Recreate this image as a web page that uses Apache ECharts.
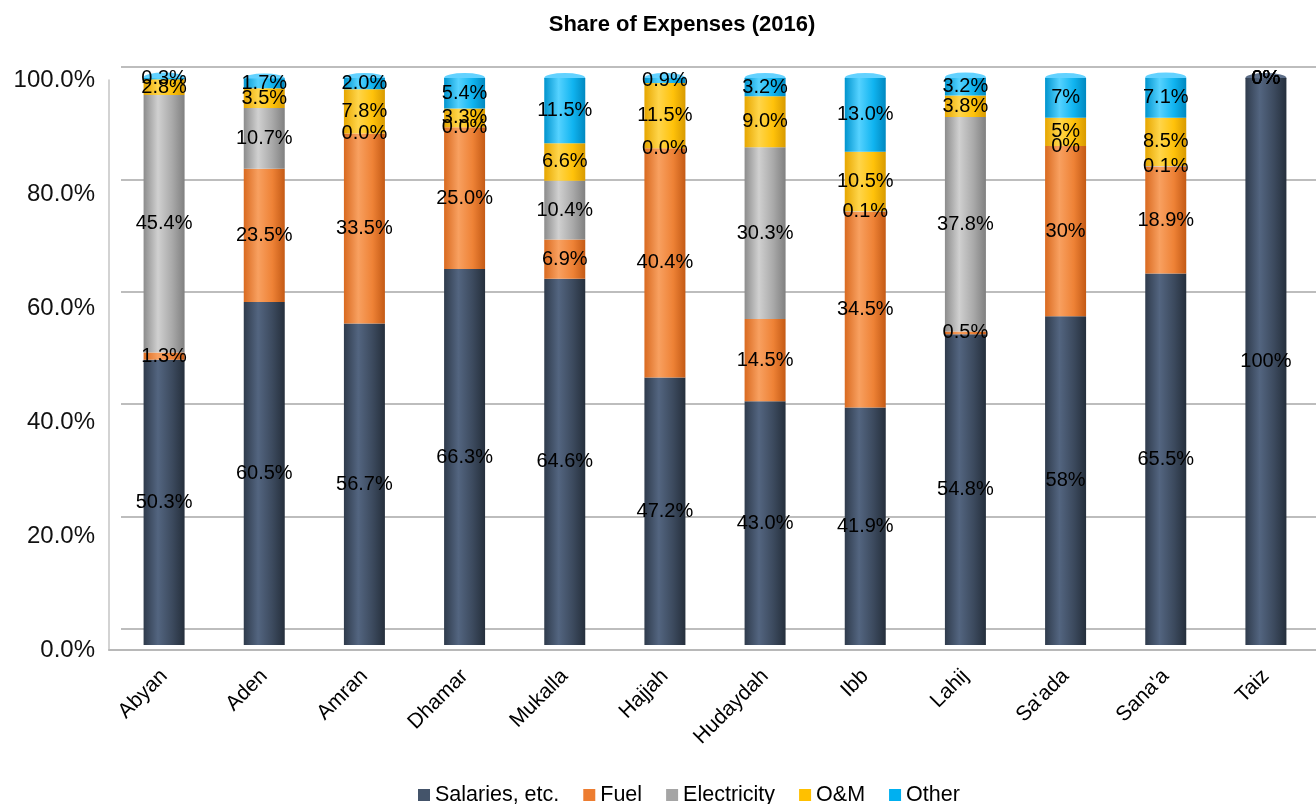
<!DOCTYPE html>
<html>
<head>
<meta charset="utf-8">
<script src="https://cdn.jsdelivr.net/npm/echarts@6/dist/echarts.min.js"></script>
<style>
html,body{margin:0;padding:0;background:#fff;}
#chart{width:1316px;height:804px;}
</style>
</head>
<body>
<div id="chart"></div>
<script>
// ---- data ----
const categories = ['Abyan','Aden','Amran','Dhamar','Mukalla','Hajjah','Hudaydah','Ibb','Lahij',"Sa'ada","Sana'a",'Taiz'];
const salaries    = [50.3, 60.5, 56.7, 66.3, 64.6, 47.2, 43.0, 41.9, 54.8, 58, 65.5, 100];
const fuel        = [1.3, 23.5, 33.5, 25.0, 6.9, 40.4, 14.5, 34.5, 0.5, 30, 18.9, 0];
const electricity = [45.4, 10.7, 0.0, 0.0, 10.4, 0.0, 30.3, 0.1, 37.8, 0, 0.1, 0];
const om          = [2.8, 3.5, 7.8, 3.3, 6.6, 11.5, 9.0, 10.5, 3.8, 5, 8.5, 0];
const other       = [0.3, 1.7, 2.0, 5.4, 11.5, 0.9, 3.2, 13.0, 3.2, 7, 7.1, 0];
const labelDecimals = [1,1,1,1,1,1,1,1,1,0,1,0];
const seriesNames = ['Salaries, etc.','Fuel','Electricity','O&M','Other'];
const yMin = 0, yMax = 100, yStep = 20;

// ---- styles ----
const baseColors = ['#44546a','#ed7d31','#a5a5a5','#ffc000','#00b0f0'];
const shades = [
  ['#2f3b4c','#536580','#3c4a5e','#252f3c'],
  ['#d96a20','#f8a060','#ee8236','#c45a15'],
  ['#8c8c8c','#d0d0d0','#a9a9a9','#808080'],
  ['#e6a600','#ffd54a','#ffc20a','#d89a00'],
  ['#0094ce','#55d2ff','#10b4f0','#0088c0']
];
const capColors = ['#5d6e88','#f7ad72','#c8c8c8','#ffdb55','#63d2ff'];
function grad(i){
  const s = shades[i];
  return {type:'linear',x:0,y:0,x2:1,y2:0,colorStops:[
    {offset:0,color:s[0]},{offset:0.35,color:s[1]},{offset:0.7,color:s[2]},{offset:1,color:s[3]}]};
}
const allSeries = [salaries, fuel, electricity, om, other];
const totals = categories.map((c,i)=>allSeries.reduce((a,s)=>a+s[i],0));
const topIdx = categories.map((c,i)=>{let t=0; allSeries.forEach((s,k)=>{if(s[i]>0)t=k;}); return t;});

const FONT = 'Liberation Sans, Arial, sans-serif';
const BW = 41;

const barSeries = allSeries.map((arr,k)=>({
  name: seriesNames[k],
  type:'bar',
  stack:'total',
  xAxisIndex:0, yAxisIndex:0,
  barWidth:BW,
  data: arr,
  itemStyle:{color:grad(k)},
  label:{show:true,position:'inside',color:'#000',fontSize:20,fontFamily:FONT,
    formatter:p=>p.value.toFixed(labelDecimals[p.dataIndex])+'%'},
  z:3
}));

const capSeries = {
  type:'pictorialBar',
  xAxisIndex:0, yAxisIndex:0,
  symbol:'circle',
  symbolSize:[BW,10],
  symbolPosition:'end',
  symbolOffset:[0,'-50%'],
  barWidth:BW,
  silent:true,
  z:2,
  data: totals.map((t,i)=>({value:t,itemStyle:{color:capColors[topIdx[i]]}}))
};

const chart = echarts.init(document.getElementById('chart'));
chart.setOption({
  backgroundColor:'#fff',
  animation:false,
  title:{text:'Share of Expenses (2016)',left:677,top:9,textAlign:'center',
    textStyle:{fontFamily:FONT,fontSize:22,fontWeight:'bold',color:'#000'}},
  legend:{
    top:779,left:413,itemWidth:12,itemHeight:12,itemGap:24,icon:'rect',
    textStyle:{fontFamily:FONT,fontSize:21.5,color:'#000'},
    data: seriesNames.map((n,k)=>({name:n,itemStyle:{color:baseColors[k]}}))
  },
  grid:[
    {left:114,right:-17,top:78,bottom:159},   // bars
    {left:121,right:-40,top:67,bottom:175},   // back wall
    {left:109,right:-40,top:80,bottom:154}    // front plane
  ],
  xAxis:[
    {type:'category',gridIndex:0,data:categories,axisLine:{show:false},axisTick:{show:false},
      axisLabel:{rotate:45,fontSize:21,fontFamily:FONT,color:'#000',margin:28,interval:0}},
    {type:'category',gridIndex:1,data:categories,show:false},
    {type:'category',gridIndex:2,data:categories,axisLine:{show:true,lineStyle:{color:'#b8b8b8',width:2}},
      axisTick:{show:false},axisLabel:{show:false}}
  ],
  yAxis:[
    {type:'value',gridIndex:0,min:yMin,max:yMax,interval:yStep,show:false},
    {type:'value',gridIndex:1,min:yMin,max:yMax,interval:yStep,axisLabel:{show:false},axisLine:{show:false},
      axisTick:{show:false},splitLine:{show:true,lineStyle:{color:'#bdbdbd',width:2}}},
    {type:'value',gridIndex:2,min:yMin,max:yMax,interval:yStep,
      axisLine:{show:true,lineStyle:{color:'#c4c4c4',width:1.5}},axisTick:{show:false},splitLine:{show:false},
      axisLabel:{fontSize:24,fontFamily:FONT,color:'#111',margin:14,padding:[5,0,0,0],formatter:v=>v.toFixed(1)+'%'}}
  ],
  series:[...barSeries, capSeries]
});
</script>
</body>
</html>
